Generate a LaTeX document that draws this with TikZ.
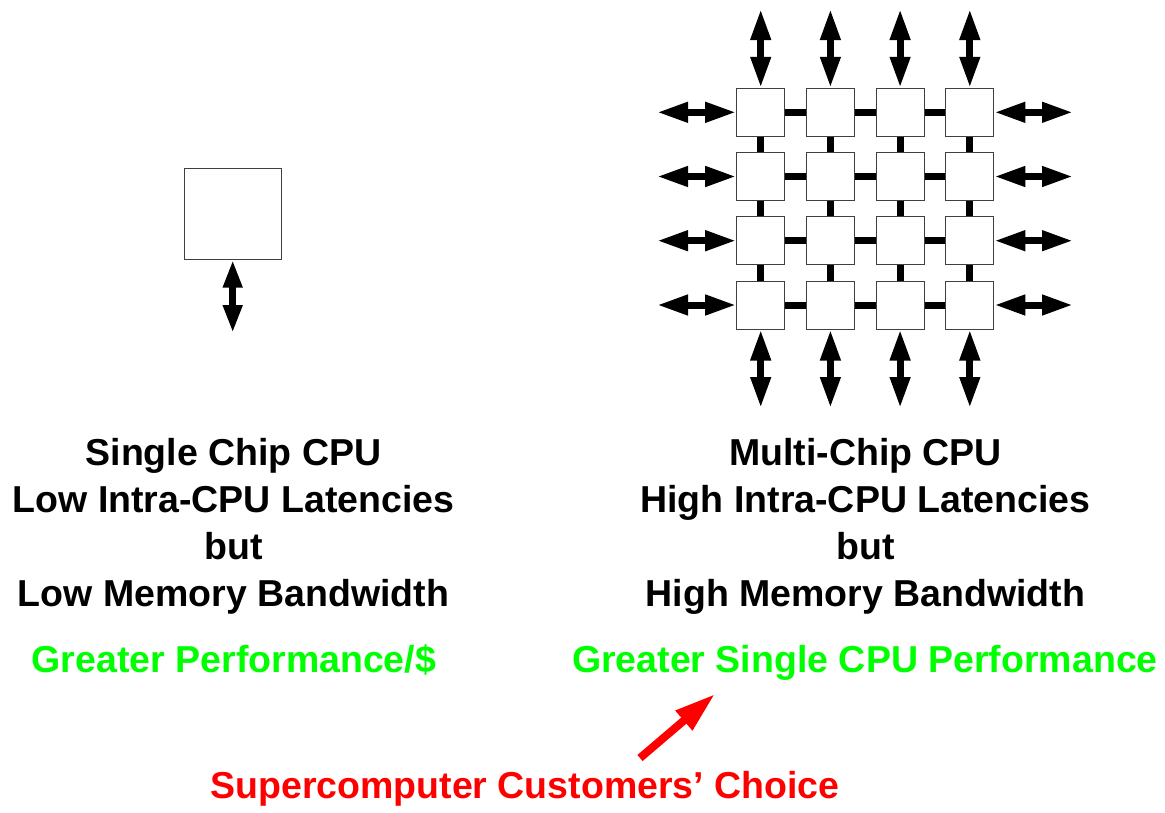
\documentclass[tikz,border=0pt]{standalone}
\usepackage{fontspec}
\setmainfont{Liberation Sans}
\usetikzlibrary{arrows.meta}
\definecolor{perfgreen}{RGB}{0,255,0}
\definecolor{choicered}{RGB}{255,0,0}
\begin{document}
\begin{tikzpicture}[x=1pt,y=-1pt,
  chip/.style={draw=black!75,line width=1pt,fill=white,minimum width=48pt,minimum height=48pt,inner sep=0pt},
  bigchip/.style={draw=black!75,line width=1pt,fill=white,minimum width=97pt,minimum height=91pt,inner sep=0pt},
  link/.style={line width=7pt,black},
  io/.style={line width=7pt,black,{Triangle[length=31pt,width=19pt]}-{Triangle[length=31pt,width=19pt]}},
  memio/.style={line width=7pt,black,{Triangle[length=28pt,width=18pt]}-{Triangle[length=28pt,width=18pt]}},
  caption/.style={anchor=base,inner sep=0pt,font=\fontsize{37.5}{47}\selectfont\bfseries},
  pointer/.style={line width=8pt,choicered,-{Triangle[length=41pt,width=24pt]}}]
\useasboundingbox (0,0) rectangle (1165,812);

% single chip with its memory port
\node[bigchip] (single) at (232.7,213.7) {};
\coordinate (singlemem) at (232.7,333);
\draw[memio] (single.south) -- (singlemem);

% 4x4 mesh of chips
\foreach \r/\y in {1/112.3,2/176.5,3/240.7,4/305} {
  \foreach \c/\x in {1/760.7,2/830.4,3/900.1,4/969.8} {
    \node[chip] (m\r\c) at (\x,\y) {};
  }
}
% mesh links
\foreach \r in {1,...,4} {
  \foreach \c/\n in {1/2,2/3,3/4} {
    \draw[link] (m\r\c.east) -- (m\r\n.west);
    \draw[link] (m\c\r.south) -- (m\n\r.north);
  }
}
% edge ports
\foreach \c/\x in {1/760.7,2/830.4,3/900.1,4/969.8} {
  \coordinate (top\c) at (\x,9);
  \coordinate (bot\c) at (\x,408);
  \draw[io] (top\c) -- (m1\c.north);
  \draw[io] (m4\c.south) -- (bot\c);
}
\foreach \r/\y in {1/112.3,2/176.5,3/240.7,4/305} {
  \coordinate (left\r) at (657,\y);
  \coordinate (right\r) at (1073,\y);
  \draw[io] (left\r) -- (m\r1.west);
  \draw[io] (m\r4.east) -- (right\r);
}

% captions
\node[caption] (l1) at (233.5,465) {Single Chip CPU};
\node[caption] (l2) at (233.5,512) {Low Intra-CPU Latencies};
\node[caption] (l3) at (233.5,559) {but};
\node[caption] (l4) at (233.5,606) {Low Memory Bandwidth};
\node[caption] (r1) at (865.5,465) {Multi-Chip CPU};
\node[caption] (r2) at (865.5,512) {High Intra-CPU Latencies};
\node[caption] (r3) at (865.5,559) {but};
\node[caption] (r4) at (865.5,606) {High Memory Bandwidth};
\node[caption,text=perfgreen] (lg) at (234,672) {Greater Performance/\$};
\node[caption,text=perfgreen] (rg) at (865,672) {Greater Single CPU Performance};
\node[caption,text=choicered] (choice) at (525,798) {Supercomputer Customers’ Choice};

% pointer to the preferred option
\coordinate (ptail) at (640,758);
\coordinate (phead) at (715,694);
\draw[pointer] (ptail) -- (phead);
\end{tikzpicture}
\end{document}
